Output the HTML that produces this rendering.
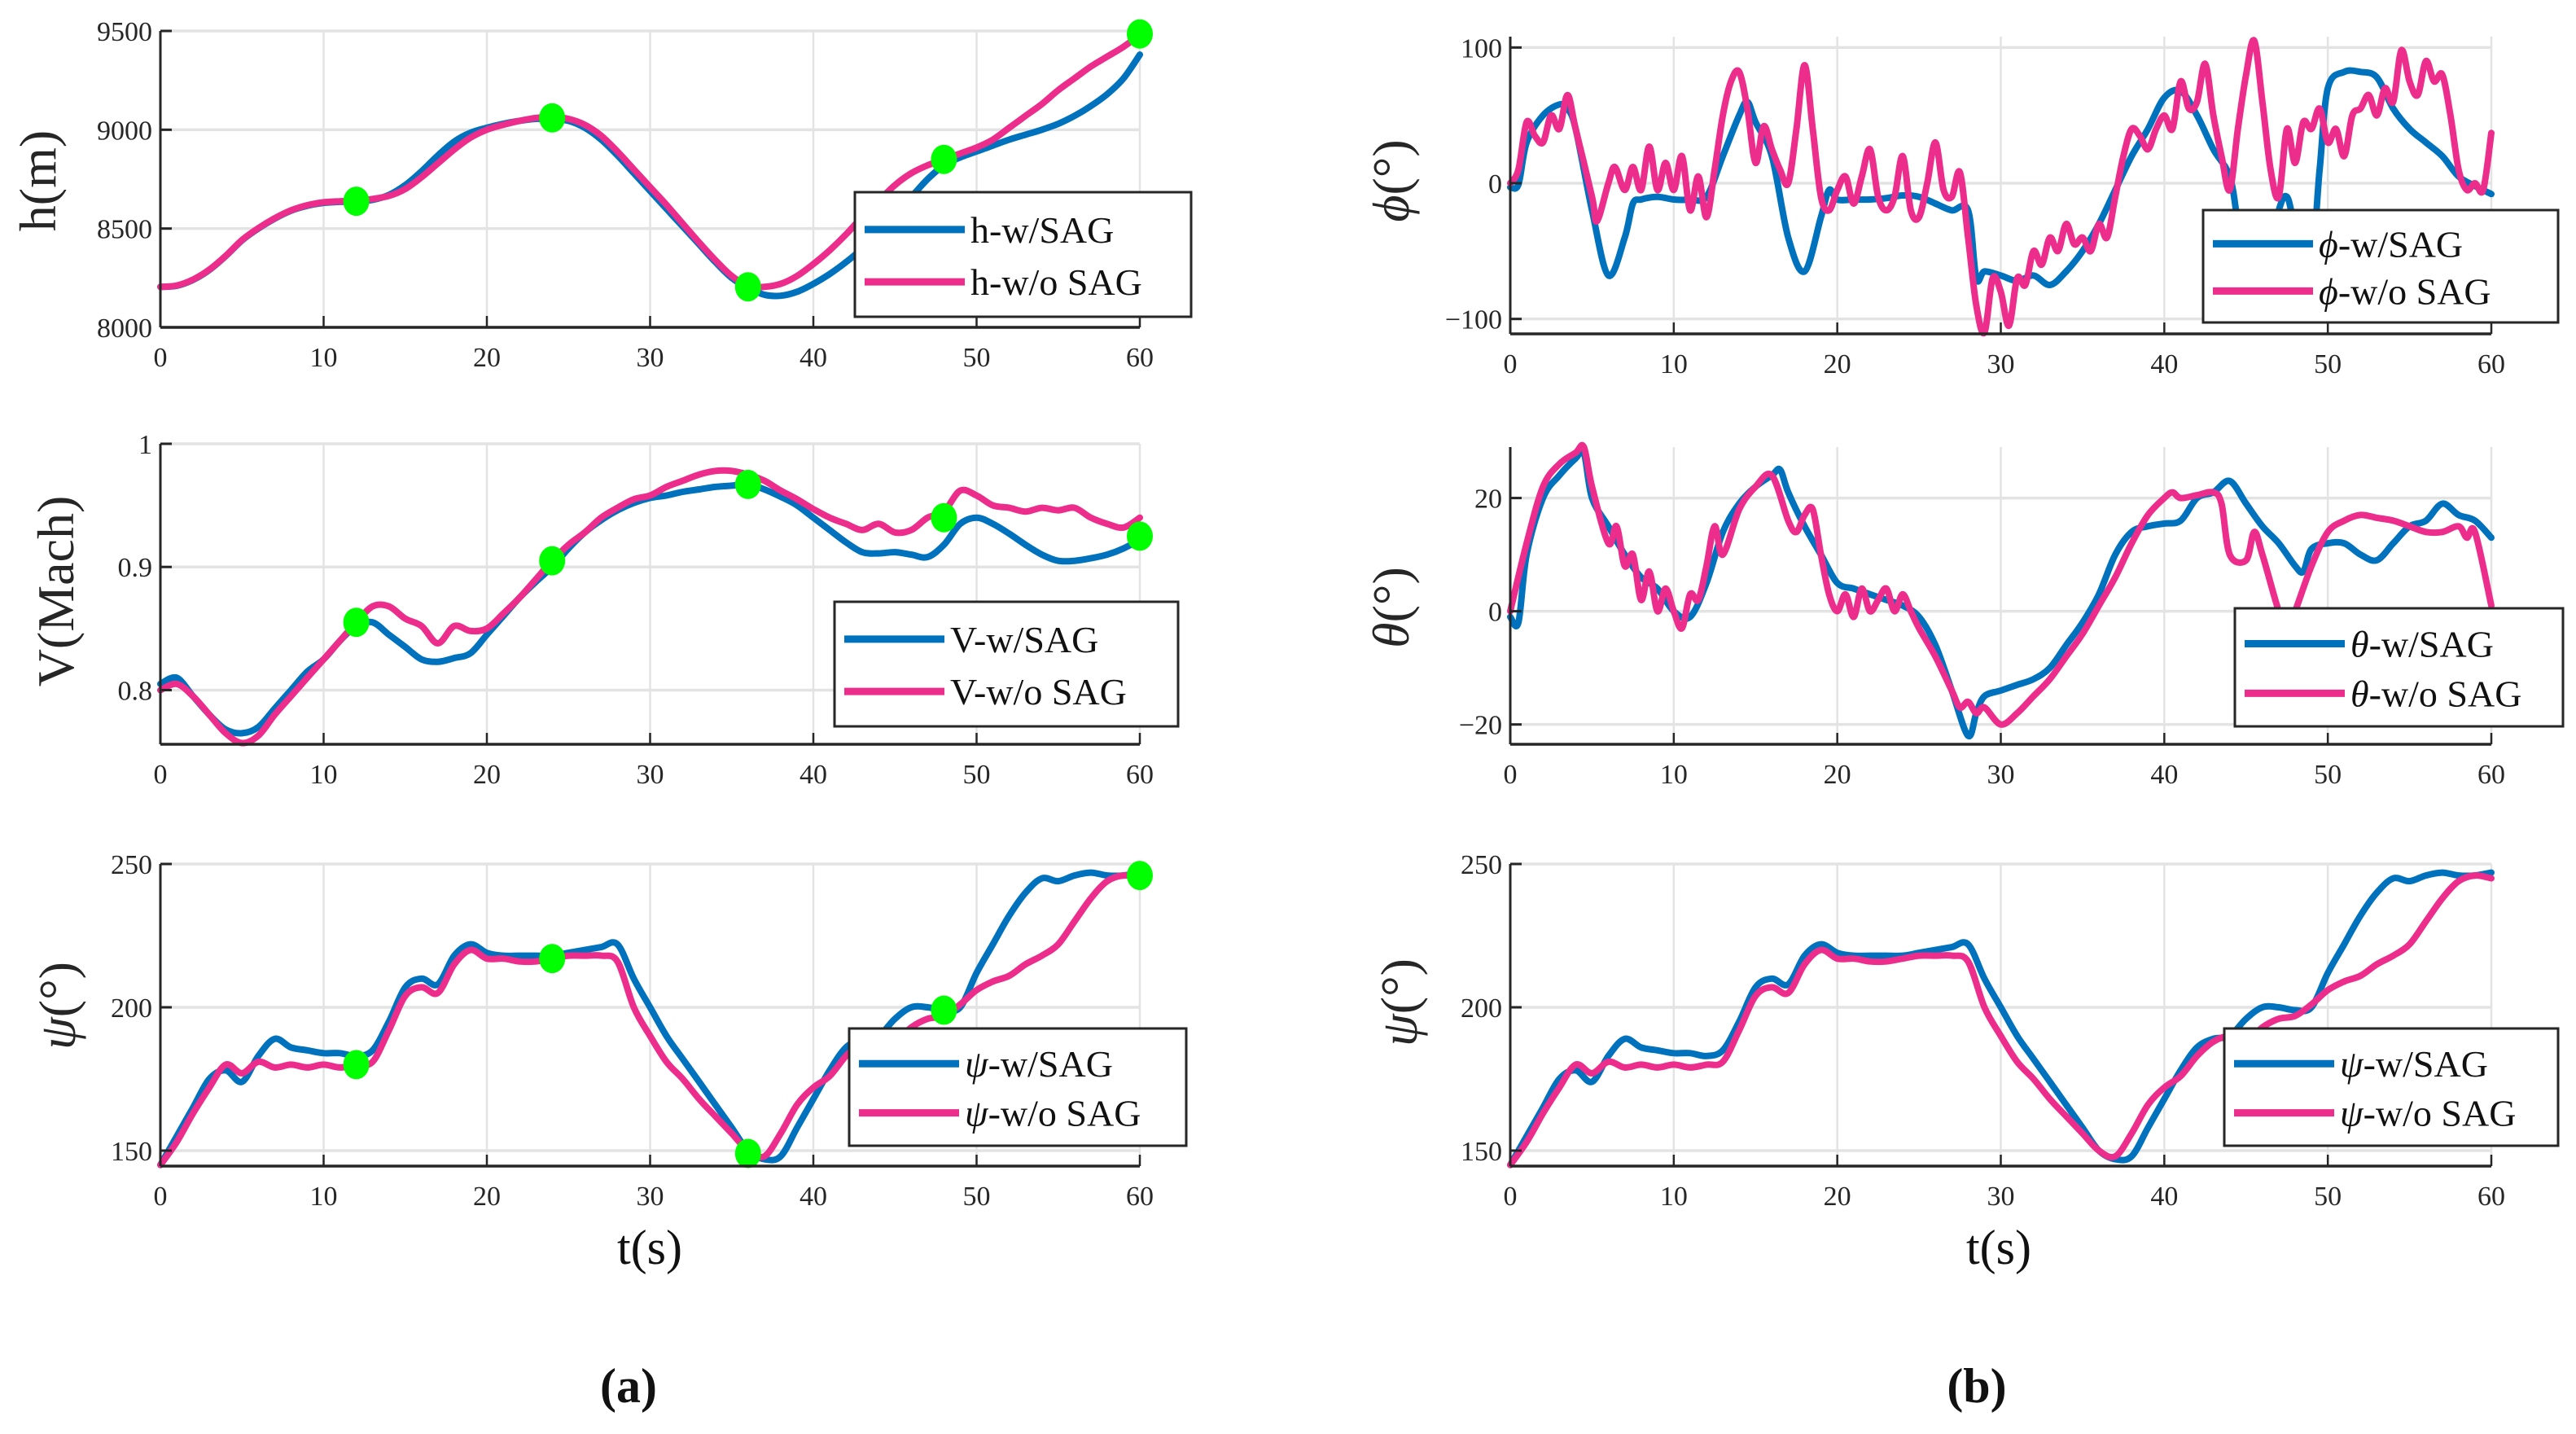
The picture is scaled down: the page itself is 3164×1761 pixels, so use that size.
<!DOCTYPE html>
<html><head><meta charset="utf-8">
<style>
html,body{margin:0;padding:0;background:#fff;}
svg{display:block;font-family:"Liberation Serif","DejaVu Serif",serif;}
</style></head>
<body>
<svg id="fig" width="3164" height="1761" viewBox="0 0 3164 1761" xmlns="http://www.w3.org/2000/svg">
<rect width="3164" height="1761" fill="#fff"/>
</svg>
<script>
// ---------- data ----------
const xTicks=[0,10,20,30,40,50,60];
const markerT=[12,24,36,48,60];

const hT=[0,1,2,3,4,5,6,7,8,9,10,11,12,13,14,15,16,17,18,19,20,21,22,23,24,25,26,27,28,29,30,31,32,33,34,35,36,37,38,39,40,41,42,43,44,45,46,47,48,49,50,51,52,53,54,55,56,57,58,59,60];
const hBlue=[8205,8210,8240,8290,8360,8440,8500,8550,8590,8615,8630,8635,8638,8645,8670,8720,8790,8870,8940,8985,9010,9030,9045,9055,9055,9045,9010,8950,8870,8780,8690,8600,8510,8420,8330,8250,8200,8165,8160,8180,8220,8270,8330,8400,8480,8570,8660,8750,8820,8860,8890,8920,8950,8975,9000,9030,9070,9120,9180,9260,9380];
const hPink=[8205,8212,8242,8292,8362,8442,8502,8552,8592,8618,8633,8638,8640,8650,8665,8700,8760,8830,8900,8960,9000,9025,9045,9060,9065,9055,9025,8970,8890,8800,8710,8620,8525,8430,8340,8260,8210,8205,8220,8260,8320,8390,8470,8560,8640,8720,8780,8820,8850,8880,8910,8950,9010,9070,9130,9200,9260,9320,9370,9420,9480];
const hMarks=[8638,9060,8205,8850,9485];
const hTicks=[8000,8500,9000,9500];

const vT=hT;
const vBlue=[0.805,0.81,0.795,0.78,0.768,0.765,0.77,0.785,0.8,0.815,0.825,0.84,0.852,0.855,0.845,0.835,0.825,0.823,0.826,0.83,0.845,0.86,0.875,0.888,0.9,0.915,0.928,0.938,0.946,0.952,0.956,0.958,0.961,0.963,0.965,0.966,0.967,0.963,0.957,0.95,0.94,0.93,0.92,0.912,0.911,0.912,0.91,0.908,0.918,0.935,0.94,0.935,0.927,0.918,0.91,0.905,0.905,0.907,0.91,0.915,0.922];
const vPink=[0.8,0.805,0.795,0.78,0.765,0.757,0.763,0.78,0.795,0.81,0.825,0.84,0.855,0.868,0.868,0.858,0.852,0.838,0.852,0.848,0.85,0.862,0.875,0.89,0.905,0.918,0.928,0.94,0.948,0.955,0.958,0.965,0.97,0.975,0.978,0.978,0.975,0.97,0.962,0.955,0.947,0.94,0.935,0.93,0.935,0.928,0.93,0.94,0.945,0.962,0.958,0.95,0.948,0.945,0.948,0.946,0.948,0.94,0.935,0.932,0.94];
const vMarks=[0.855,0.905,0.967,0.94,0.925];
const vTicks=[0.8,0.9,1];

const psiT=hT;
const psiBlue=[145,155,165,175,178,174,183,189,186,185,184,184,183,185,195,207,210,208,218,222,219,218,218,218,218,219,220,221,222,210,200,190,182,174,166,158,150,147,148,158,168,178,186,189,190,196,200,200,199,200,212,222,232,240,245,244,246,247,246,246,247];
const psiPink=[145,153,163,172,180,177,181,179,180,179,180,179,180,181,192,204,207,205,215,220,217,217,216,216,217,218,218,218,216,200,190,181,175,168,162,156,150,148,156,166,172,176,183,188,190,188,193,196,197,201,206,209,211,215,218,222,230,238,244,246,245];
const psiMarks=[180,217,149,199,246];
const psiTicks=[150,200,250];

const phiBlueT=[0,0.5,1,2,3,3.5,4,5,6,7,7.5,8,9,10,11,12,13,14,14.5,15,16,17,18,19,19.5,20,21,22,23,24,25,26,27,28,28.5,29,30,31,32,33,34,35,36,37,38,39,40,41,42,43,44,44.5,45,46,47,47.5,48,49,49.5,50,51,52,53,54,55,56,57,58,59,60];
const phiBlue=[-3,-1,30,50,58,55,40,-20,-68,-40,-15,-12,-10,-12,-12,-10,20,50,60,45,20,-40,-65,-25,-5,-12,-12,-12,-11,-9,-10,-15,-20,-20,-70,-65,-68,-72,-68,-75,-65,-50,-30,-5,20,40,63,68,50,25,5,-30,-70,-70,-20,-10,-30,-50,10,70,82,82,78,55,40,30,20,5,-2,-8];
const phiPinkT=[0,0.5,1,1.5,2,2.5,3,3.5,4,5,5.3,6,6.4,7,7.5,8,8.5,9,9.5,10,10.5,11,11.5,12,12.5,13,13.5,14,14.5,15,15.5,16,16.5,17,17.5,18,18.5,19,19.5,20,20.5,21,21.5,22,22.5,23,23.5,24,24.5,25,25.5,26,26.5,27,27.5,28,28.5,29,29.5,30,30.5,31,31.5,32,32.5,33,33.5,34,34.5,35,35.5,36,36.5,37,37.5,38,38.5,39,39.5,40,40.5,41,41.5,42,42.5,43,43.5,44,44.5,45,45.5,46,46.5,47,47.5,48,48.5,49,49.5,50,50.5,51,51.5,52,52.5,53,53.5,54,54.5,55,55.5,56,56.5,57,57.5,58,58.5,59,59.5,60];
const phiPink=[0,10,45,35,30,50,40,65,40,-10,-28,0,12,-5,12,-5,27,-5,15,-5,20,-20,5,-25,10,50,75,82,55,15,42,25,10,0,40,87,40,-10,-20,-5,5,-15,5,25,-10,-20,-10,20,-20,-25,0,30,-5,-10,8,-40,-90,-110,-70,-80,-105,-70,-75,-50,-60,-40,-50,-30,-45,-40,-50,-30,-40,-10,20,40,35,25,40,50,40,75,55,60,88,50,20,-5,40,80,105,60,10,-10,40,15,45,40,55,30,40,20,50,55,65,50,70,60,98,75,65,90,75,80,50,10,-5,0,-5,37];
const phiTicks=[-100,0,100];

const thBlueT=[0,0.5,1,2,3,4,4.5,5,6,7,8,9,10,11,12,13,14,15,16,16.5,17,18,19,20,21,22,23,24,25,26,27,28,28.5,29,30,31,32,33,34,35,36,37,38,39,40,41,42,43,44,45,46,47,48,48.5,49,50,51,52,53,54,55,56,57,58,59,60];
const thBlue=[-1,-2,10,20,24,27,28,20,15,10,6,4,0,-1,5,14,19,22,24,25,21,15,10,5,4,3,2,1,-1,-6,-14,-22,-18,-15,-14,-13,-12,-10,-6,-2,3,10,14,15,15.5,16,20,21,23,19,15,12,8,7,11,12,12,10,9,12,15,16,19,17,16,13];
const thPinkT=[0,1,2,3,4,4.5,5,6,6.5,7,7.5,8,8.5,9,9.5,10,10.5,11,11.5,12,12.5,13,14,15,16,17,17.5,18,18.5,19,19.5,20,20.5,21,21.5,22,22.5,23,23.5,24,24.5,25,26,27,27.5,28,28.5,29,30,31,32,33,34,35,36,37,38,39,40,40.5,41,42,43,43.5,44,45,45.5,46,47,47.5,48,49,50,51,52,53,54,55,56,57,58,58.5,59,60];
const thPink=[0,12,22,26,28,29,22,12,15,8,10,2,7,0,4,0,-3,3,2,8,15,10,18,22,24,16,14,17,18,10,3,0,3,-1,4,0,2,4,0,3,0,-3,-8,-14,-17,-16,-18,-17,-20,-18,-15,-12,-8,-4,1,6,12,17,20,21,20,20.5,21,19,10,9,14,10,0,-3,0,8,14,16,17,16.5,16,15,14,14,15,13,14,1];
const thTicks=[-20,0,20];

// ---------- drawing ----------
const NS='http://www.w3.org/2000/svg';
const svg=document.getElementById('fig');
const BLUE='#0072BD', PINK='#EC2D8C', GREEN='#00FF00';
function mk(tag,attrs,parent){const e=document.createElementNS(NS,tag);for(const k in attrs)e.setAttribute(k,attrs[k]);(parent||svg).appendChild(e);return e;}
function smoothPath(pts){
  let d='M'+pts[0][0].toFixed(1)+','+pts[0][1].toFixed(1);
  for(let i=0;i<pts.length-1;i++){
    const p0=pts[Math.max(0,i-1)],p1=pts[i],p2=pts[i+1],p3=pts[Math.min(pts.length-1,i+2)];
    const c1x=p1[0]+(p2[0]-p0[0])/6,c1y=p1[1]+(p2[1]-p0[1])/6;
    const c2x=p2[0]-(p3[0]-p1[0])/6,c2y=p2[1]-(p3[1]-p1[1])/6;
    d+=' C'+c1x.toFixed(1)+','+c1y.toFixed(1)+' '+c2x.toFixed(1)+','+c2y.toFixed(1)+' '+p2[0].toFixed(1)+','+p2[1].toFixed(1);
  }
  return d;
}
function panel(cfg){
  const g=mk('g',{});
  
  
  const sx=t=>cfg.x0+(t-0)/(60-0)*(cfg.x1-cfg.x0);
  const sy=v=>cfg.yb+(v-cfg.ymin)/(cfg.ymax-cfg.ymin)*(cfg.yt-cfg.yb);
  xTicks.forEach(t=>{const l=mk('line',{x1:sx(t),x2:sx(t),y1:cfg.yt,y2:cfg.yb,stroke:'#e3e3e3','stroke-width':2.5},g);
    });
  cfg.yTicks.forEach(v=>{const l=mk('line',{x1:cfg.x0,x2:cfg.x1,y1:sy(v),y2:sy(v),stroke:'#e3e3e3','stroke-width':3.5},g);
    });
  cfg.series.forEach(s=>{
    const pts=s.t.map((t,i)=>[sx(t),sy(s.v[i])]);
    const p=mk('path',{d:smoothPath(pts),fill:'none',stroke:s.color,'stroke-width':8,'stroke-linejoin':'round','stroke-linecap':'round'},g);
    
    
  });
  if(cfg.marks){cfg.marks.forEach((v,i)=>{
    const c=mk('ellipse',{cx:sx(markerT[i]),cy:sy(v),rx:16,ry:18,fill:GREEN},g);
    
    
  });}
  const ax=mk('line',{x1:cfg.x0,x2:cfg.x1,y1:cfg.yb,y2:cfg.yb,stroke:'#262626','stroke-width':3.5},g);
  
  const ay=mk('line',{x1:cfg.x0,x2:cfg.x0,y1:cfg.yt,y2:cfg.yb,stroke:'#262626','stroke-width':3},g);
  
  xTicks.forEach(t=>{
    mk('line',{x1:sx(t),x2:sx(t),y1:cfg.yb,y2:cfg.yb-14,stroke:'#262626','stroke-width':2.5},g);
    const tx=mk('text',{x:sx(t),y:cfg.yb+48,'text-anchor':'middle','font-size':34,fill:'#262626'},g);
    tx.textContent=t;
    
  });
  cfg.yTicks.forEach(v=>{
    mk('line',{x1:cfg.x0,x2:cfg.x0+14,y1:sy(v),y2:sy(v),stroke:'#262626','stroke-width':3},g);
    const tx=mk('text',{x:cfg.x0-10,y:sy(v)+12,'text-anchor':'end','font-size':34,fill:'#262626'},g);
    tx.textContent=(v<0?'\u2212'+Math.abs(v):String(v));
    
  });
  const yl=mk('text',{x:0,y:0,'text-anchor':'middle','font-size':64,fill:'#262626',transform:`translate(${cfg.ylx},${cfg.yly}) rotate(-90)`},g);
  yl.innerHTML=cfg.ylabel;
  
  const L=cfg.leg;
  const lg=mk('g',{},g);
  
  mk('rect',{x:L.x,y:L.y,width:L.w,height:L.h,fill:'#fff',stroke:'#262626','stroke-width':3},lg);
  cfg.series.forEach((s,i)=>{
    const yy=L.y+L.h*(i===0?0.3:0.72);
    const ln=mk('line',{x1:L.x+12,x2:L.x+135,y1:yy,y2:yy,stroke:s.color,'stroke-width':9},lg);
    
    const tx=mk('text',{x:L.x+142,y:yy+16,'font-size':46,fill:'#111'},lg);
    tx.innerHTML=s.label;
    
  });
}
const LX0=197,LX1=1400,RX0=1855,RX1=3060;
panel({name:'altitude-panel',x0:LX0,x1:LX1,yt:38,yb:402,ymin:8000,ymax:9500,yTicks:hTicks,marks:hMarks,
  ylabel:'h(m)',ylx:68,yly:222,
  series:[{name:'h-with-sag-line',t:hT,v:hBlue,color:BLUE,label:'h-w/SAG'},{name:'h-without-sag-line',t:hT,v:hPink,color:PINK,label:'h-w/o SAG'}],
  leg:{x:1050,y:236,w:413,h:153}});
panel({name:'velocity-panel',x0:LX0,x1:LX1,yt:545,yb:914,ymin:0.756,ymax:1.0,yTicks:vTicks,marks:vMarks,
  ylabel:'V(Mach)',ylx:90,yly:726,
  series:[{name:'v-with-sag-line',t:vT,v:vBlue,color:BLUE,label:'V-w/SAG'},{name:'v-without-sag-line',t:vT,v:vPink,color:PINK,label:'V-w/o SAG'}],
  leg:{x:1025,y:739,w:422,h:153}});
panel({name:'heading-panel-a',x0:LX0,x1:LX1,yt:1061,yb:1432,ymin:144.6,ymax:250,yTicks:psiTicks,marks:psiMarks,
  ylabel:'<tspan font-style="italic">ψ</tspan>(°)',ylx:92,yly:1235,
  series:[{name:'psi-with-sag-line',t:psiT,v:psiBlue,color:BLUE,label:'<tspan font-style="italic">ψ</tspan>-w/SAG'},{name:'psi-without-sag-line',t:psiT,v:psiPink,color:PINK,label:'<tspan font-style="italic">ψ</tspan>-w/o SAG'}],
  leg:{x:1043,y:1263,w:414,h:144}});
panel({name:'roll-panel',x0:RX0,x1:RX1,yt:45,yb:410,ymin:-111,ymax:108,yTicks:phiTicks,
  ylabel:'<tspan font-style="italic">ϕ</tspan>(°)',ylx:1730,yly:222,
  series:[{name:'phi-with-sag-line',t:phiBlueT,v:phiBlue,color:BLUE,label:'<tspan font-style="italic">ϕ</tspan>-w/SAG'},{name:'phi-without-sag-line',t:phiPinkT,v:phiPink,color:PINK,label:'<tspan font-style="italic">ϕ</tspan>-w/o SAG'}],
  leg:{x:2706,y:258,w:436,h:138}});
panel({name:'pitch-panel',x0:RX0,x1:RX1,yt:549,yb:914,ymin:-23.5,ymax:29,yTicks:thTicks,
  ylabel:'<tspan font-style="italic">θ</tspan>(°)',ylx:1730,yly:746,
  series:[{name:'theta-with-sag-line',t:thBlueT,v:thBlue,color:BLUE,label:'<tspan font-style="italic">θ</tspan>-w/SAG'},{name:'theta-without-sag-line',t:thPinkT,v:thPink,color:PINK,label:'<tspan font-style="italic">θ</tspan>-w/o SAG'}],
  leg:{x:2745,y:747,w:403,h:145}});
panel({name:'heading-panel-b',x0:RX0,x1:RX1,yt:1061,yb:1432,ymin:144.6,ymax:250,yTicks:psiTicks,
  ylabel:'<tspan font-style="italic">ψ</tspan>(°)',ylx:1740,yly:1231,
  series:[{name:'psi-with-sag-line',t:psiT,v:psiBlue,color:BLUE,label:'<tspan font-style="italic">ψ</tspan>-w/SAG'},{name:'psi-without-sag-line',t:psiT,v:psiPink,color:PINK,label:'<tspan font-style="italic">ψ</tspan>-w/o SAG'}],
  leg:{x:2732,y:1263,w:410,h:144}});
</script>
<script>
(function(){
const NS='http://www.w3.org/2000/svg';const svg=document.getElementById('fig');
function t(x,y,s,txt,name,w){const e=document.createElementNS(NS,'text');e.setAttribute('x',x);e.setAttribute('y',y);e.setAttribute('text-anchor','middle');e.setAttribute('font-size',s);e.setAttribute('fill','#111');if(w)e.setAttribute('font-weight',w);e.textContent=txt;


svg.appendChild(e);}
t(798,1552,60,'t(s)','x-axis-title-a');
t(2455,1552,60,'t(s)','x-axis-title-b');
t(772,1722,60,'(a)','subfigure-label-a','bold');
t(2428,1722,60,'(b)','subfigure-label-b','bold');
})();
</script>
</body></html>
